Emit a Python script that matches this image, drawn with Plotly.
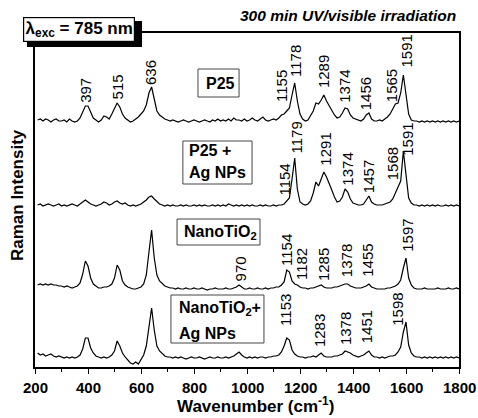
import plotly.graph_objects as go

# ---------------- data ----------------
wavenumber = list(range(210, 1801, 10))

p25 = [
    3, 4, 2, 4, 3, 1, 3, 4, 2, 2,
    3, 1, 4, 2, 1, 2, 5, 11, 17, 17,
    10, 5, 3, 1, 3, 7, 6, 4, 9, 15,
    20, 16, 9, 5, 3, 1, 2, 4, 6, 9,
    12, 18, 30, 36, 22, 12, 8, 6, 4, 3,
    2, 3, 2, 1, 2, 3, 2, 1, 2, 3,
    2, 1, 2, 3, 2, 1, 3, 2, 4, 2,
    3, 2, 4, 2, 5, 3, 3, 2, 4, 2,
    3, 5, 3, 2, 4, 6, 3, 2, 3, 4,
    3, 5, 8, 9, 12, 15, 28, 40, 22, 9,
    4, 2, 3, 7, 12, 20, 19, 23, 28, 22,
    17, 13, 8, 5, 6, 10, 15, 14, 8, 5,
    4, 3, 2, 4, 8, 10, 4, 2, 2, 3,
    2, 4, 6, 9, 14, 19, 20, 30, 48, 28,
    9, 3, 2, 2, 1, 2, 1, 2, 1, 2,
    1, 2, 1, 2, 1, 2, 1, 2, 1, 2,
]

p25_ag = [
    2, 3, 1, 2, 3, 2, 1, 2, 3, 1,
    2, 1, 2, 3, 2, 1, 3, 5, 7, 5,
    3, 2, 1, 2, 3, 5, 4, 2, 3, 5,
    6, 4, 3, 4, 2, 1, 2, 1, 2, 3,
    5, 7, 10, 11, 8, 5, 3, 2, 1, 2,
    1, 2, 1, 1, 2, 1, 2, 1, 1, 2,
    1, 2, 1, 2, 1, 1, 2, 1, 2, 1,
    2, 1, 3, 2, 1, 2, 1, 2, 1, 2,
    1, 2, 1, 1, 2, 1, 2, 1, 1, 2,
    1, 2, 2, 3, 6, 9, 28, 49, 18, 5,
    3, 2, 3, 6, 14, 25, 21, 28, 35, 30,
    24, 17, 10, 5, 6, 10, 18, 15, 8, 4,
    3, 2, 2, 3, 7, 11, 5, 3, 2, 2,
    2, 3, 4, 5, 8, 14, 20, 26, 56, 33,
    9, 4, 2, 2, 1, 2, 1, 2, 1, 2,
    1, 2, 1, 1, 2, 1, 2, 1, 2, 1,
]

nano_tio2 = [
    5, 6, 5, 6, 5, 6, 5, 5, 4, 4,
    3, 4, 3, 2, 3, 4, 7, 16, 29, 24,
    12, 6, 4, 2, 2, 3, 3, 4, 6, 12,
    25, 20, 9, 5, 3, 2, 1, 1, 2, 3,
    6, 15, 38, 60, 32, 15, 9, 6, 4, 3,
    2, 2, 1, 2, 1, 1, 2, 1, 1, 2,
    1, 1, 2, 1, 0, 1, 1, 2, 1, 1,
    1, 2, 1, 1, 2, 3, 5, 3, 1, 1,
    2, 1, 1, 2, 1, 1, 2, 1, 2, 2,
    3, 3, 5, 8, 20, 18, 9, 6, 5, 3,
    2, 2, 1, 2, 2, 3, 4, 5, 3, 2,
    2, 2, 3, 3, 4, 5, 6, 6, 4, 3,
    2, 2, 2, 3, 4, 6, 3, 2, 1, 1,
    1, 1, 2, 2, 3, 4, 6, 10, 22, 32,
    12, 5, 2, 1, 1, 1, 2, 1, 1, 1,
    1, 2, 1, 1, 1, 2, 1, 1, 2, 1,
]

nano_tio2_ag = [
    5, 3, 4, 2, 3, 4, 2, 1, 2, 1,
    0, 1, 0, 1, 0, 1, 3, 9, 20, 20,
    10, 5, 2, 1, 0, 1, 0, 1, 3, 7,
    17, 12, 5, 1, -2, -5, -6, -4, -6, -2,
    3, 12, 33, 50, 28, 12, 7, 4, 2, 1,
    1, 0, 1, 0, 1, 0, -1, 0, 1, 0,
    0, 1, 0, -1, 0, 1, 0, 0, 1, 0,
    0, 1, 0, 1, 2, 4, 6, 3, 1, 0,
    1, 0, 1, 0, 1, 1, 0, 1, 1, 2,
    2, 3, 6, 12, 20, 18, 8, 4, 2, 1,
    1, 0, 1, 1, 2, 1, 3, 5, 2, 1,
    1, 1, 2, 2, 3, 4, 7, 6, 5, 3,
    2, 1, 2, 3, 5, 7, 3, 1, 1, 0,
    1, 0, 1, 2, 2, 3, 6, 11, 26, 36,
    13, 5, 2, 1, 1, 0, 1, 0, 1, 0,
    1, 0, 1, 0, 1, 0, 1, 0, 1, 0,
]

# peak label values per spectrum
p25_peaks = [397, 515, 636, 1155, 1178, 1289, 1374, 1456, 1565, 1591]
p25_ag_peaks = [1154, 1179, 1291, 1374, 1457, 1568, 1591]
nano_peaks = [970, 1154, 1182, 1285, 1378, 1455, 1597]
nano_ag_peaks = [1153, 1283, 1378, 1451, 1598]

x_ticks = [200, 400, 600, 800, 1000, 1200, 1400, 1600, 1800]

# ---------------- layout helpers ----------------
offsets = [244, 160, 77, 9]
spectra = [p25, p25_ag, nano_tio2, nano_tio2_ag]

FONT = "Liberation Sans, Arial, sans-serif"

fig = go.Figure()
for vals, off in zip(spectra, offsets):
    fig.add_trace(go.Scatter(
        x=wavenumber, y=[v + off for v in vals], mode="lines",
        line=dict(color="black", width=1.2), showlegend=False,
        hoverinfo="skip"))

# label placements: (x centre of rotated label, y centre of label)
p25_pos = [(388, 277), (513, 280.5), (636, 294.5), (1130, 281.5), (1183, 305.5),
           (1289, 295.5), (1365, 281), (1448, 273.5), (1546, 281.5), (1600, 315.5)]
p25_ag_pos = [(1138, 187), (1183, 229), (1293, 218), (1376, 198),
              (1459, 190.5), (1550, 203.5), (1603, 228)]
nano_pos = [(975, 98), (1149, 117.5), (1206, 102.5), (1289, 102.5), (1376, 106.5),
            (1452, 107), (1603, 132)]
nano_ag_pos = [(1145, 57.5), (1274, 36.5), (1372, 38.5), (1452, 40.5), (1565, 58)]

annotations = []
for peaks, pos in [(p25_peaks, p25_pos), (p25_ag_peaks, p25_ag_pos),
                   (nano_peaks, nano_pos), (nano_ag_peaks, nano_ag_pos)]:
    for pk, (px, py) in zip(peaks, pos):
        annotations.append(dict(
            x=px, y=py, xref="x", yref="y", text=str(pk), showarrow=False,
            textangle=-90, xanchor="center", yanchor="middle",
            font=dict(family=FONT, size=15, color="black")))

# x tick labels (bold), placed at the axis tick values
for t in x_ticks:
    annotations.append(dict(
        x=t, y=-0.0599, xref="x", yref="paper", text=f"<b>{t}</b>",
        showarrow=False, xanchor="center", yanchor="middle",
        font=dict(family=FONT, size=15, color="black")))

# sample name boxes (shapes) and their text
boxes = [(815, 970, 270, 298), (758, 1019, 183, 226),
         (736, 1049, 122, 148), (713, 1064, 24, 72)]
shapes = []
for x0, x1, y0, y1 in boxes:
    shapes.append(dict(type="rect", xref="x", yref="y", x0=x0, x1=x1,
                       y0=y0, y1=y1, line=dict(color="#444", width=1),
                       fillcolor="white", layer="above"))

box_texts = [("<b>P25</b>", 838, 284), ("<b>P25 +</b>", 774, 217),
             ("<b>Ag NPs</b>", 774, 195), ("<b>NanoTiO<sub>2</sub></b>", 755, 135),
             ("<b>NanoTiO<sub>2</sub>+</b>", 736, 59), ("<b>Ag NPs</b>", 736, 34)]
for t, x, y in box_texts:
    annotations.append(dict(x=x, y=y, xref="x", yref="y", text=t,
                            showarrow=False, xanchor="left", yanchor="middle",
                            font=dict(family=FONT, size=16, color="black")))

# lambda box with shadow
shapes.append(dict(type="rect", xref="paper", yref="paper",
                   x0=-0.019, x1=0.2524, y0=0.958, y1=1.036,
                   fillcolor="black", line=dict(width=0), layer="above"))
annotations.append(dict(
    x=-0.0283, y=1.048, xref="paper", yref="paper",
    text="<b>λ<sub>exc</sub> = 785 nm</b>", showarrow=False,
    xanchor="left", yanchor="top", bgcolor="white", bordercolor="black",
    borderwidth=1.2, borderpad=1, width=108, height=21,
    font=dict(family=FONT, size=17, color="black")))

annotations.append(dict(
    x=0.9976, y=1.051, xref="paper", yref="paper",
    text="<b><i>300 min UV/visible irradiation</i></b>", showarrow=False,
    xanchor="right", yanchor="middle",
    font=dict(family=FONT, size=15.5, color="black")))

# axis titles
annotations.append(dict(
    x=0.521, y=-0.114, xref="paper", yref="paper",
    text="<b>Wavenumber (cm<sup>-1</sup>)</b>", showarrow=False,
    xanchor="center", yanchor="middle",
    font=dict(family=FONT, size=17, color="black")))
annotations.append(dict(
    x=-0.040, y=0.515, xref="paper", yref="paper",
    text="<b>Raman Intensity</b>", showarrow=False, textangle=-90,
    xanchor="center", yanchor="middle",
    font=dict(family=FONT, size=17, color="black")))

fig.update_layout(
    width=478, height=418, autosize=False,
    margin=dict(l=35, r=19, t=33, b=51),
    paper_bgcolor="white", plot_bgcolor="white",
    font=dict(family=FONT, color="black"),
    annotations=annotations, shapes=shapes,
    xaxis=dict(range=[200, 1800], tickvals=x_ticks, showticklabels=False,
               ticks="outside", ticklen=5, tickwidth=1.3, tickcolor="black",
               minor=dict(dtick=100, ticks="outside", ticklen=3, tickcolor="black"),
               showline=True, linewidth=1.5, linecolor="black", mirror=True,
               showgrid=False, zeroline=False, automargin=False),
    yaxis=dict(range=[0, 334], showticklabels=False, ticks="",
               showline=True, linewidth=1.5, linecolor="black", mirror=True,
               showgrid=False, zeroline=False, automargin=False),
)

post = (
    "document.documentElement.style.overflow='hidden';"
    "document.body.style.margin='0';document.body.style.overflow='hidden';"
)
fig.write_html("out.html", post_script=post,
               config={"displayModeBar": False, "responsive": False})
